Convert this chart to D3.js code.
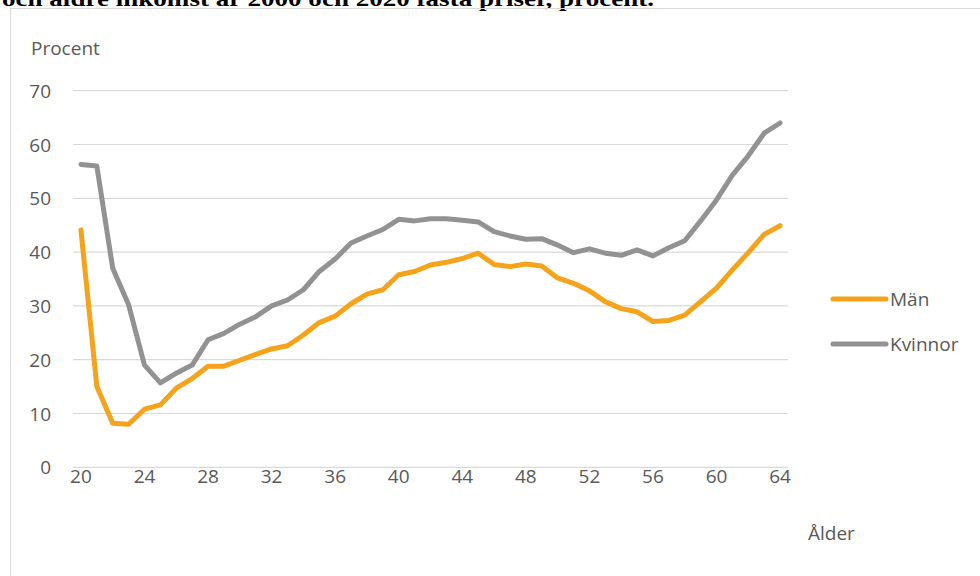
<!DOCTYPE html>
<html>
<head>
<meta charset="utf-8">
<script src="https://cdn.jsdelivr.net/npm/d3@7"></script>
<style>
  body { margin: 0; background: #fff; }
  svg { display: block; }
</style>
</head>
<body>
<svg id="chart" width="980" height="576"></svg>
<script>
// data
const ages = d3.range(20, 65);
const man = [44.1, 15.0, 8.2, 8.0, 10.8, 11.6, 14.7, 16.5, 18.8, 18.8,
  19.9, 21.0, 22.0, 22.6, 24.6, 26.9, 28.1, 30.4, 32.2, 33.0,
  35.8, 36.4, 37.6, 38.1, 38.8, 39.8, 37.7, 37.3, 37.8, 37.4,
  35.2, 34.2, 32.8, 30.8, 29.5, 28.9, 27.1, 27.3, 28.3, 30.8,
  33.3, 36.7, 39.9, 43.3, 44.9];
const kvinnor = [56.3, 56.0, 37.0, 30.2, 19.0, 15.7, 17.5, 19.0, 23.7, 24.9,
  26.6, 28.0, 30.0, 31.1, 33.0, 36.4, 38.7, 41.7, 43.0, 44.2,
  46.1, 45.8, 46.2, 46.2, 45.9, 45.6, 43.8, 43.0, 42.4, 42.5,
  41.3, 39.9, 40.6, 39.8, 39.4, 40.4, 39.3, 40.8, 42.1, 45.8,
  49.7, 54.3, 57.9, 62.1, 64.0];
const yTicks = [0, 10, 20, 30, 40, 50, 60, 70];
const xTicks = [20, 24, 28, 32, 36, 40, 44, 48, 52, 56, 60, 64];
const series = [
  {name: "Män", values: man, color: "#f5a31b"},
  {name: "Kvinnor", values: kvinnor, color: "#929292"}
];

const svg = d3.select("#chart");
const font = "'Open Sans', sans-serif";
const textColor = "#595959";

// title, cut off at the top like the original
svg.append("text")
  .attr("x", 2).attr("y", 6)
  .attr("font-family", "'Liberation Serif', serif")
  .attr("font-weight", "bold")
  .attr("font-size", 22)
  .attr("textLength", 652)
  .attr("lengthAdjust", "spacingAndGlyphs")
  .attr("fill", "#000")
  .text("och äldre inkomst år 2000 och 2020 fasta priser, procent.");

// chart frame
svg.append("rect")
  .attr("x", 10.5).attr("y", 8.5)
  .attr("width", 1000).attr("height", 600)
  .attr("fill", "none")
  .attr("stroke", "#d9d9d9");

const x = d3.scalePoint().domain(ages).range([73, 788]).padding(0.5);
const y = d3.scaleLinear().domain([0, 70]).range([467.3, 90.7]);

// gridlines
svg.append("g").selectAll("line").data(yTicks)
  .join("line")
  .attr("x1", 73).attr("x2", 788)
  .attr("y1", d => y(d)).attr("y2", d => y(d))
  .attr("stroke", "#d9d9d9")
  .attr("stroke-width", 1.2);

// y tick labels
svg.append("g").selectAll("text").data(yTicks)
  .join("text")
  .attr("x", 51).attr("y", d => y(d) + 7)
  .attr("text-anchor", "end")
  .attr("font-family", font).attr("font-size", 19)
  .attr("fill", textColor)
  .text(d => d);

// x tick labels
svg.append("g").selectAll("text").data(xTicks)
  .join("text")
  .attr("x", d => x(d)).attr("y", 483)
  .attr("text-anchor", "middle")
  .attr("font-family", font).attr("font-size", 19)
  .attr("fill", textColor)
  .text(d => d);

// axis titles
svg.append("text")
  .attr("x", 31).attr("y", 55)
  .attr("font-family", font).attr("font-size", 19)
  .attr("fill", textColor)
  .text("Procent");

svg.append("text")
  .attr("x", 808).attr("y", 540)
  .attr("font-family", font).attr("font-size", 19)
  .attr("fill", textColor)
  .text("Ålder");

// lines
const line = d3.line()
  .x((d, i) => x(ages[i]))
  .y(d => y(d));

svg.append("g").selectAll("path").data(series)
  .join("path")
  .attr("d", s => line(s.values))
  .attr("fill", "none")
  .attr("stroke", s => s.color)
  .attr("stroke-width", 5)
  .attr("stroke-linejoin", "round")
  .attr("stroke-linecap", "round");

// legend
const legend = svg.append("g").selectAll("g").data(series)
  .join("g")
  .attr("transform", (s, i) => `translate(0, ${299 + i * 45})`);

legend.append("line")
  .attr("x1", 833).attr("x2", 886)
  .attr("stroke", s => s.color)
  .attr("stroke-width", 5)
  .attr("stroke-linecap", "round");

legend.append("text")
  .attr("x", 890).attr("y", 7)
  .attr("font-family", font).attr("font-size", 19)
  .attr("fill", textColor)
  .text(s => s.name);
</script>
</body>
</html>
